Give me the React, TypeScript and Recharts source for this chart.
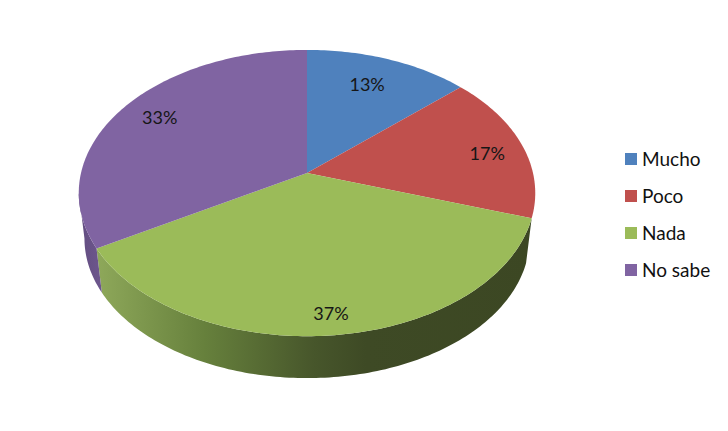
import React from "react";
import { PieChart, Pie, Cell, Legend } from "recharts";

const categories = ["Mucho", "Poco", "Nada", "No sabe"];
const responses = [4, 5, 11, 10];
const palette = ["#4f81bd", "#c0504d", "#9bbb59", "#8064a2"];

const rows = categories.map((name, i) => ({ name, value: responses[i] }));

// Perspective of the tilted disc
const K = 0.14;
const Y_RATIO = 0.621;
const BOTTOM_SCALE = 0.975;
const DEPTH = 46;
const RAD = Math.PI / 180;
const FRONT_START = 108;
const FRONT_END = 262;
const labelNudge = [
  [-6.6, 4],
  [7.4, 2.8],
  [2.7, 14.5],
  [1, -3],
];

const project = (cx: number, cy: number, R: number, theta: number, r = 1) => {
  const u = r * Math.sin(theta * RAD);
  const v = r * Math.cos(theta * RAD);
  const w = 1 + K * v;
  return [cx + (R * u) / w, cy - (R * Y_RATIO * v) / w];
};

const arc = (cx: number, cy: number, R: number, a: number, b: number, dy = 0) => {
  const n = Math.max(2, Math.ceil(Math.abs(b - a)));
  const pts: string[] = [];
  for (let i = 0; i <= n; i++) {
    const [x, y] = project(cx, cy, R, a + ((b - a) * i) / n);
    pts.push(`${x.toFixed(2)} ${(y + dy).toFixed(2)}`);
  }
  return pts;
};

const wallFills = ["#3c5a7c", "#6f2f2d", "url(#greenWall)", "url(#purpleWall)"];

const Slice = (props: any) => {
  const { cx, cy, outerRadius, startAngle, endAngle, fill, index } = props;
  const a = 90 - startAngle;
  const b = 90 - endAngle;
  const wa = Math.max(a, FRONT_START);
  const wb = Math.min(b, FRONT_END);
  const top = arc(cx, cy, outerRadius, a, b);
  return (
    <g>
      {wb > wa && (
        <path
          d={`M${arc(cx, cy, outerRadius, wa, wb).join(" L")} L${arc(cx, cy, outerRadius * BOTTOM_SCALE, wb, wa, DEPTH).join(" L")} Z`}
          fill={wallFills[index]}
        />
      )}
      <path d={`M${cx} ${cy} L${top.join(" L")} Z`} fill={fill} />
    </g>
  );
};

const SliceLabel = (props: any) => {
  const { cx, cy, outerRadius, midAngle, percent, index } = props;
  const [x, y] = project(cx, cy, outerRadius, 90 - midAngle, 0.8);
  return (
    <text
      x={x + labelNudge[index][0]}
      y={y + labelNudge[index][1]}
      textAnchor="middle"
      dominantBaseline="central"
      fontFamily="Lato, sans-serif"
      fontSize={18}
      fill="#161616"
    >
      {Math.round(percent * 100)}%
    </text>
  );
};

const LegendBox = ({ payload }: any) => (
  <div>
    {(payload || []).map((p: any) => (
      <div key={p.value} style={{ display: "flex", alignItems: "center", height: 37 }}>
        <span style={{ width: 12, height: 12, background: p.color, marginRight: 5, flex: "none" }} />
        <span style={{ fontFamily: "Lato, sans-serif", fontSize: 19, color: "#111", whiteSpace: "nowrap" }}>{p.value}</span>
      </div>
    ))}
  </div>
);

export default function App() {
  return (
    <div style={{ margin: -8, width: 728, height: 431, background: "#fff" }}>
      <PieChart width={728} height={431} margin={{ top: 0, right: 0, bottom: 0, left: 0 }}>
        <defs>
          <linearGradient id="greenWall" gradientUnits="userSpaceOnUse" x1="97" y1="0" x2="531" y2="0">
            <stop offset="0" stopColor="#8ea85a" />
            <stop offset="0.25" stopColor="#66803c" />
            <stop offset="0.5" stopColor="#47562b" />
            <stop offset="0.62" stopColor="#3e4a25" />
            <stop offset="1" stopColor="#3c4723" />
          </linearGradient>
          <linearGradient id="purpleWall" gradientUnits="userSpaceOnUse" x1="79" y1="0" x2="103" y2="0">
            <stop offset="0" stopColor="#624d80" />
            <stop offset="1" stopColor="#6e578e" />
          </linearGradient>
        </defs>
        <Pie
          data={rows}
          dataKey="value"
          nameKey="name"
          cx={307}
          cy={173}
          outerRadius={226}
          startAngle={90}
          endAngle={-270}
          stroke="none"
          legendType="square"
          isAnimationActive={false}
          shape={Slice}
          label={SliceLabel}
          labelLine={false}
        >
          {rows.map((r, i) => (
            <Cell key={r.name} fill={palette[i]} />
          ))}
        </Pie>
        <Legend
          layout="vertical"
          itemSorter={null}
          content={<LegendBox />}
          wrapperStyle={{ position: "absolute", left: 625, top: 140, width: 103 }}
        />
      </PieChart>
    </div>
  );
}
